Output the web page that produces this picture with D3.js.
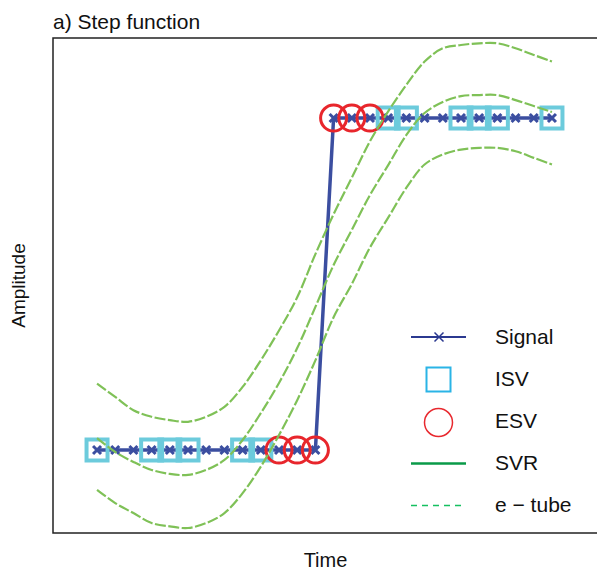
<!DOCTYPE html>
<html>
<head>
<meta charset="utf-8">
<script src="https://cdn.jsdelivr.net/npm/d3@7"></script>
<style>
  body { margin: 0; background: #fff; }
  text { font-family: "Liberation Sans", Arial, Helvetica, sans-serif; fill: #111; }
</style>
</head>
<body>
<svg width="597" height="574"></svg>
<script>
var svg = d3.select("svg"),
  width = +svg.attr("width"),
  height = +svg.attr("height");

// sample index (time) and the step signal
var time = [1, 2, 3, 4, 5, 6, 7, 8, 9, 10, 11, 12, 13, 14, 15, 16, 17, 18, 19, 20, 21, 22, 23, 24, 25, 26];
var signal = [0, 0, 0, 0, 0, 0, 0, 0, 0, 0, 0, 0, 0, 1, 1, 1, 1, 1, 1, 1, 1, 1, 1, 1, 1, 1];

// which samples are support vectors
var isv = [1, 4, 5, 6, 9, 10, 17, 18, 21, 22, 23, 26];
var esv = [11, 12, 13, 14, 15, 16];

// SVR fit and the e-tube at each sample
var svr = [0.036, -0.006, -0.036, -0.060, -0.072, -0.075, -0.060, -0.030, 0.030, 0.111, 0.202, 0.307, 0.431,
  0.557, 0.663, 0.768, 0.858, 0.949, 1.015, 1.048, 1.066, 1.069, 1.069, 1.054, 1.036, 1.018];
var tubeUp = [0.20, 0.16, 0.12, 0.10, 0.09, 0.085, 0.10, 0.13, 0.19, 0.27, 0.36, 0.46, 0.59,
  0.71, 0.82, 0.93, 1.02, 1.10, 1.17, 1.21, 1.22, 1.225, 1.225, 1.21, 1.19, 1.17];
var tubeLo = [-0.12, -0.16, -0.19, -0.22, -0.23, -0.235, -0.22, -0.19, -0.13, -0.05, 0.045, 0.15, 0.27,
  0.40, 0.50, 0.61, 0.70, 0.79, 0.86, 0.89, 0.905, 0.91, 0.91, 0.90, 0.88, 0.86];

var legendLabels = ["Signal", "ISV", "ESV", "SVR", "e \u2212 tube"];

var box = { left: 53, right: 598, top: 38, bottom: 533 };

var x = d3.scaleLinear()
  .domain([-1.42, 28.53])
  .range([box.left, box.right]);

var y = d3.scaleLinear()
  .domain([-0.25, 1.241])
  .range([box.bottom, box.top]);

svg.append("defs").append("clipPath")
  .attr("id", "clip")
  .append("rect")
  .attr("x", box.left)
  .attr("y", box.top)
  .attr("width", box.right - box.left)
  .attr("height", box.bottom - box.top);

var plot = svg.append("g").attr("clip-path", "url(#clip)");

// signal line
var sigLine = d3.line()
  .x(function(d, i) { return x(time[i]); })
  .y(function(d) { return y(d); });

plot.append("path")
  .datum(signal)
  .attr("fill", "none")
  .attr("stroke", "#3b4ea0")
  .attr("stroke-width", 3.5)
  .attr("d", sigLine);

// x markers on each sample
plot.append("g")
  .selectAll("path")
  .data(signal)
  .enter().append("path")
  .attr("transform", function(d, i) { return "translate(" + x(time[i]) + "," + y(d) + ")"; })
  .attr("d", "M-4,-4L4,4M-4,4L4,-4")
  .attr("stroke", "#3b4ea0")
  .attr("stroke-width", 3);

// inner support vectors
plot.append("g")
  .selectAll("rect")
  .data(isv)
  .enter().append("rect")
  .attr("x", function(t) { return x(t) - 10.5; })
  .attr("y", function(t) { return y(signal[t - 1]) - 10.5; })
  .attr("width", 21)
  .attr("height", 21)
  .attr("fill", "none")
  .attr("stroke", "#6ccbdc")
  .attr("stroke-width", 4);

// error support vectors
plot.append("g")
  .selectAll("circle")
  .data(esv)
  .enter().append("circle")
  .attr("cx", function(t) { return x(t); })
  .attr("cy", function(t) { return y(signal[t - 1]); })
  .attr("r", 13)
  .attr("fill", "none")
  .attr("stroke", "#e8262c")
  .attr("stroke-width", 3);

// SVR curve and tube
var curve = d3.line()
  .x(function(d, i) { return x(time[i]); })
  .y(function(d) { return y(d); })
  .curve(d3.curveCatmullRom);

plot.selectAll(".fit")
  .data([tubeUp, svr, tubeLo])
  .enter().append("path")
  .attr("class", "fit")
  .attr("fill", "none")
  .attr("stroke", "#7fc157")
  .attr("stroke-width", 2.2)
  .attr("stroke-dasharray", "11,2.5")
  .attr("d", curve);

// frame
svg.append("rect")
  .attr("x", box.left)
  .attr("y", box.top)
  .attr("width", box.right - box.left)
  .attr("height", box.bottom - box.top)
  .attr("fill", "none")
  .attr("stroke", "#222")
  .attr("stroke-width", 1.5);

svg.append("text")
  .attr("x", box.left)
  .attr("y", 29)
  .attr("font-size", 21)
  .text("a) Step function");

svg.append("text")
  .attr("x", (box.left + box.right) / 2)
  .attr("y", 567)
  .attr("text-anchor", "middle")
  .attr("font-size", 20)
  .text("Time");

svg.append("text")
  .attr("transform", "translate(25," + ((box.top + box.bottom) / 2) + ") rotate(-90)")
  .attr("text-anchor", "middle")
  .attr("font-size", 19)
  .text("Amplitude");

// legend
var lg = svg.append("g").attr("transform", "translate(411,337)");
var rowH = 42;

lg.append("line")
  .attr("x1", 0).attr("x2", 55).attr("y1", 0).attr("y2", 0)
  .attr("stroke", "#2b3990").attr("stroke-width", 2);
lg.append("path")
  .attr("d", "M23.5,-4.5L32.5,4.5M23.5,4.5L32.5,-4.5")
  .attr("stroke", "#2b3990").attr("stroke-width", 1.5);

lg.append("rect")
  .attr("x", 15.5).attr("y", rowH - 11.5)
  .attr("width", 24).attr("height", 24)
  .attr("fill", "none").attr("stroke", "#2ab4e6").attr("stroke-width", 2);

lg.append("circle")
  .attr("cx", 27.5).attr("cy", rowH * 2 + 1.5).attr("r", 14)
  .attr("fill", "none").attr("stroke", "#e8282e").attr("stroke-width", 1.5);

lg.append("line")
  .attr("x1", 0).attr("x2", 55).attr("y1", rowH * 3 + 0.5).attr("y2", rowH * 3 + 0.5)
  .attr("stroke", "#0a9a48").attr("stroke-width", 2.5);

lg.append("line")
  .attr("x1", 0).attr("x2", 55).attr("y1", rowH * 4 + 0.5).attr("y2", rowH * 4 + 0.5)
  .attr("stroke", "#15c060").attr("stroke-width", 1.5)
  .attr("stroke-dasharray", "6,5");

lg.selectAll(".lab")
  .data(legendLabels)
  .enter().append("text")
  .attr("class", "lab")
  .attr("x", 84)
  .attr("y", function(d, i) { return i * rowH + 7; })
  .attr("font-size", 21)
  .text(function(d) { return d; });
</script>
</body>
</html>
